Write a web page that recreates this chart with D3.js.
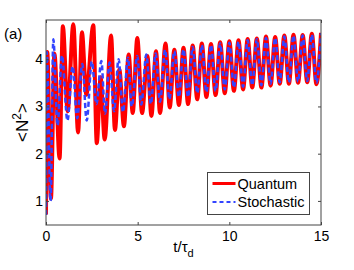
<!DOCTYPE html>
<html>
<head>
<meta charset="utf-8">
<script src="https://cdn.jsdelivr.net/npm/d3@7"></script>
<style>
  body { margin: 0; background: #fff; }
  text { font-family: "Liberation Sans", Arial, sans-serif; fill: #000; }
</style>
</head>
<body>
<div id="chart"></div>
<script>
// extrema (t in units of tau_d)
var tQuantum = [0, 0.07, 0.27, 0.46, 0.74, 0.92, 1.18, 1.49, 1.75, 1.96, 2.2, 2.58, 2.77, 2.98, 3.2, 3.55,
  3.76, 4.0, 4.25, 4.51, 4.73, 4.98, 5.24, 5.53, 5.75, 6.0, 6.22, 6.52, 6.75,
  7.0, 7.25, 7.5, 7.75, 8.0, 8.25, 8.5, 8.75, 9.0, 9.25, 9.5, 9.75, 10.0, 10.25, 10.5, 10.75,
  11.0, 11.25, 11.5, 11.75, 12.0, 12.25, 12.5, 12.75, 13.0, 13.25, 13.5, 13.75, 14.0, 14.25, 14.5, 14.75, 15.0];
var nQuantum = [0.71, 4.15, 1.05, 4.12, 1.9, 4.7, 2.9, 4.74, 2.45, 4.57, 3.25, 4.72, 2.22, 3.62, 2.3, 4.5,
  2.5, 3.78, 2.58, 4.1, 2.86, 4.45, 2.86, 4.07, 2.8, 4.17, 2.86, 4.33, 2.98,
  4.2, 3.03, 4.24, 3.05, 4.29, 3.15, 4.33, 3.2, 4.32, 3.24, 4.36, 3.28, 4.38, 3.33, 4.4, 3.36,
  4.43, 3.4, 4.44, 3.4, 4.48, 3.44, 4.47, 3.48, 4.5, 3.48, 4.52, 3.5, 4.51, 3.51, 4.54, 3.47, 4.56];

var tStochastic = [0, 0.04, 0.25, 0.4, 0.63, 0.87, 1.17, 1.45, 1.7, 1.98, 2.22, 2.5, 2.75, 3.02, 3.22, 3.47,
  3.71, 3.96, 4.2, 4.47, 4.68, 4.98, 5.2, 5.47, 5.72, 5.98, 6.22, 6.5, 6.73,
  7.0, 7.25, 7.5, 7.75, 8.0, 8.25, 8.5, 8.75, 9.0, 9.25, 9.5, 9.75, 10.0, 10.25, 10.5, 10.75,
  11.0, 11.25, 11.5, 11.75, 12.0, 12.25, 12.5, 12.75, 13.0, 13.25, 13.5, 13.75, 14.0, 14.25, 14.5, 14.75, 15.0];
var nStochastic = [0.7, 4.15, 1.0, 4.42, 2.6, 4.08, 2.7, 3.85, 2.75, 3.9, 2.7, 3.95, 3.05, 3.96, 2.85, 3.93,
  2.9, 4.0, 2.88, 4.03, 3.0, 4.07, 3.04, 4.1, 3.05, 4.12, 3.1, 4.2, 3.15,
  4.17, 3.2, 4.21, 3.2, 4.26, 3.28, 4.3, 3.3, 4.3, 3.33, 4.33, 3.36, 4.35, 3.4, 4.37, 3.42,
  4.4, 3.45, 4.42, 3.45, 4.45, 3.48, 4.45, 3.51, 4.48, 3.51, 4.5, 3.53, 4.5, 3.54, 4.52, 3.5, 4.55];

var xTicks = [0, 5, 10, 15];
var yTicks = [1, 2, 3, 4];
var seriesNames = ["Quantum", "Stochastic"];

var margin = {top: 20, right: 33, bottom: 45, left: 46},
    width = 354 - margin.left - margin.right,
    height = 270 - margin.top - margin.bottom;

var svg = d3.select("#chart")
  .append("svg")
    .attr("width", 354)
    .attr("height", 270)
  .append("g")
    .attr("transform", "translate(" + margin.left + "," + margin.top + ")");

var x = d3.scaleLinear().domain([0, 15]).range([0, width]);
var y = d3.scaleLinear().domain([0.49, 4.83]).range([height, 0]);

svg.append("clipPath").attr("id", "clip")
  .append("rect").attr("width", width).attr("height", height);

var line = d3.line()
  .x(function(d) { return x(d[0]); })
  .y(function(d) { return y(d[1]); })
  .curve(d3.curveMonotoneX);

var quantum = tQuantum.map(function(t, i) { return [t, nQuantum[i]]; });
var stochastic = tStochastic.map(function(t, i) { return [t, nStochastic[i]]; });

var plot = svg.append("g").attr("clip-path", "url(#clip)");
plot.append("path")
  .datum(quantum)
  .attr("d", line)
  .attr("fill", "none")
  .attr("stroke", "#ff0000")
  .attr("stroke-width", 4);
plot.append("path")
  .datum(stochastic)
  .attr("d", line)
  .attr("fill", "none")
  .attr("stroke", "#3344ff")
  .attr("stroke-width", 2.5)
  .attr("stroke-dasharray", "5,3");

// axes, ticks inside, box on
var axisColor = "#444";
var fmt = d3.format("d");
function styleAxis(g) {
  g.select(".domain").remove();
  g.selectAll("line").attr("stroke", axisColor);
  g.selectAll("text").attr("font-size", 14).attr("fill", "#000");
}
svg.append("g")
  .attr("transform", "translate(0," + height + ")")
  .call(d3.axisBottom(x).tickValues(xTicks).tickFormat(fmt).tickSizeInner(-3).tickSizeOuter(0).tickPadding(6.5))
  .call(styleAxis);
svg.append("g")
  .call(d3.axisTop(x).tickValues(xTicks).tickSizeInner(-3).tickSizeOuter(0).tickFormat(""))
  .call(styleAxis);
svg.append("g")
  .call(d3.axisLeft(y).tickValues(yTicks).tickFormat(fmt).tickSizeInner(-3).tickSizeOuter(0).tickPadding(3))
  .call(styleAxis);
svg.append("g")
  .attr("transform", "translate(" + width + ",0)")
  .call(d3.axisRight(y).tickValues(yTicks).tickSizeInner(-3).tickSizeOuter(0).tickFormat(""))
  .call(styleAxis);
svg.append("rect")
  .attr("width", width).attr("height", height)
  .attr("fill", "none").attr("stroke", axisColor).attr("stroke-width", 1);

// axis labels
var xl = svg.append("text")
  .attr("x", width / 2)
  .attr("y", height + 27)
  .attr("text-anchor", "middle")
  .attr("font-size", 15);
xl.append("tspan").text("t/\u03c4");
xl.append("tspan").attr("dy", 5).attr("font-size", 11).text("d");

var yl = svg.append("text")
  .attr("transform", "translate(-18," + (height / 2) + ") rotate(-90)")
  .attr("text-anchor", "middle")
  .attr("font-size", 17);
yl.append("tspan").text("<N");
yl.append("tspan").attr("dy", -7).attr("font-size", 12).text("2");
yl.append("tspan").attr("dy", 7).text(">");

svg.append("text")
  .attr("x", -42)
  .attr("y", 19)
  .attr("font-size", 15)
  .text("(a)");

// legend
var legend = svg.append("g").attr("transform", "translate(" + (207.5 - margin.left) + "," + (172.5 - margin.top) + ")");
legend.append("rect")
  .attr("width", 102).attr("height", 42)
  .attr("fill", "#fff").attr("stroke", axisColor);
var colors = ["#ff0000", "#3344ff"];
seriesNames.forEach(function(name, i) {
  var yy = 11 + i * 18.5;
  legend.append("line")
    .attr("x1", 5).attr("x2", 28).attr("y1", yy).attr("y2", yy)
    .attr("stroke", colors[i])
    .attr("stroke-width", i == 0 ? 3 : 2)
    .attr("stroke-dasharray", i == 0 ? null : "4,3");
  legend.append("text")
    .attr("x", 30).attr("y", yy + 5)
    .attr("font-size", 14.5)
    .text(name);
});
</script>
</body>
</html>
